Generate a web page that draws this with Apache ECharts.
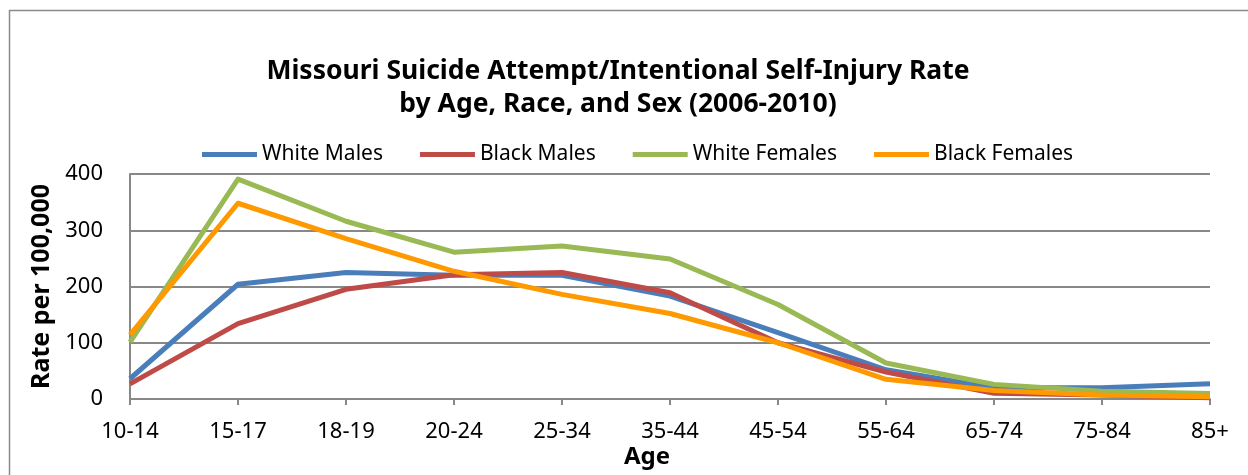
<!DOCTYPE html>
<html>
<head>
<meta charset="utf-8">
<script src="https://cdn.jsdelivr.net/npm/echarts@6/dist/echarts.min.js"></script>
<style>
  html, body { margin: 0; padding: 0; background: #fff; }
  #chart { width: 1248px; height: 475px; }
</style>
</head>
<body>
<div id="chart"></div>
<script>
// Age groups along the x axis
const ageGroups = ['10-14', '15-17', '18-19', '20-24', '25-34', '35-44', '45-54', '55-64', '65-74', '75-84', '85+'];

// Rate per 100,000 by group
const whiteMales   = [36, 204, 225, 220, 220, 183, 118, 52, 20, 20, 27];
const blackMales   = [27, 134, 195, 221, 225, 189, 100, 48, 10, 7, 2];
const whiteFemales = [101, 391, 316, 261, 272, 249, 168, 64, 26, 14, 10];
const blackFemales = [114, 348, 285, 227, 186, 152, 100, 35, 15, 7, 4];

const yTicks = [0, 100, 200, 300, 400];

const font = '"Noto Sans", "Open Sans", sans-serif';

const seriesDefs = [
  { name: 'White Males',   data: whiteMales,   color: '#4A7EBB' },
  { name: 'Black Males',   data: blackMales,   color: '#BE4B48' },
  { name: 'White Females', data: whiteFemales, color: '#98B954' },
  { name: 'Black Females', data: blackFemales, color: '#FF9900' }
];

const chart = echarts.init(document.getElementById('chart'), null, { renderer: 'canvas' });

chart.setOption({
  animation: false,
  backgroundColor: '#ffffff',
  graphic: [{
    type: 'rect',
    shape: { x: 9.5, y: 10.5, width: 1400, height: 600 },
    style: { fill: 'none', stroke: '#8a8a8a', lineWidth: 1.5 },
    z: -1
  }],
  title: {
    text: 'Missouri Suicide Attempt/Intentional Self-Injury Rate\nby Age, Race, and Sex (2006-2010)',
    left: 613,
    textAlign: 'center',
    top: 50,
    textStyle: { fontFamily: font, fontWeight: 'bold', fontSize: 26.5, lineHeight: 33, color: '#000' }
  },
  legend: {
    top: 139,
    left: 197,
    itemGap: 37,
    itemWidth: 55,
    itemHeight: 5,
    icon: 'rect',
    textStyle: { fontFamily: font, fontSize: 21, color: '#000' },
    data: seriesDefs.map(s => s.name)
  },
  grid: { left: 130, right: 38, top: 174, bottom: 76, containLabel: false },
  xAxis: {
    type: 'category',
    data: ageGroups,
    boundaryGap: false,
    name: 'Age',
    nameLocation: 'middle',
    nameGap: 46,
    nameTextStyle: { fontFamily: font, fontWeight: 'bold', fontSize: 24, color: '#000', padding: [0, 46, 0, 0] },
    axisLine: { lineStyle: { color: '#888', width: 2 } },
    axisTick: { show: true, alignWithLabel: true, length: 6, lineStyle: { color: '#888', width: 2 } },
    axisLabel: { fontFamily: font, fontSize: 22, color: '#000', margin: 22 },
    splitLine: { show: false }
  },
  yAxis: {
    type: 'value',
    min: yTicks[0],
    max: yTicks[yTicks.length - 1],
    interval: 100,
    name: 'Rate per 100,000',
    nameLocation: 'middle',
    nameRotate: 90,
    nameGap: 75,
    nameTextStyle: { fontFamily: font, fontWeight: 'bold', fontSize: 25, color: '#000' },
    axisLine: { show: true, lineStyle: { color: '#888', width: 2 } },
    axisTick: { show: false },
    axisLabel: { fontFamily: font, fontSize: 22, color: '#000', margin: 27 },
    splitLine: { lineStyle: { color: '#888', width: 2 } }
  },
  series: seriesDefs.map(s => ({
    name: s.name,
    type: 'line',
    data: s.data,
    symbol: 'none',
    lineStyle: { color: s.color, width: 5, join: 'round' },
    itemStyle: { color: s.color }
  }))
});
</script>
</body>
</html>
